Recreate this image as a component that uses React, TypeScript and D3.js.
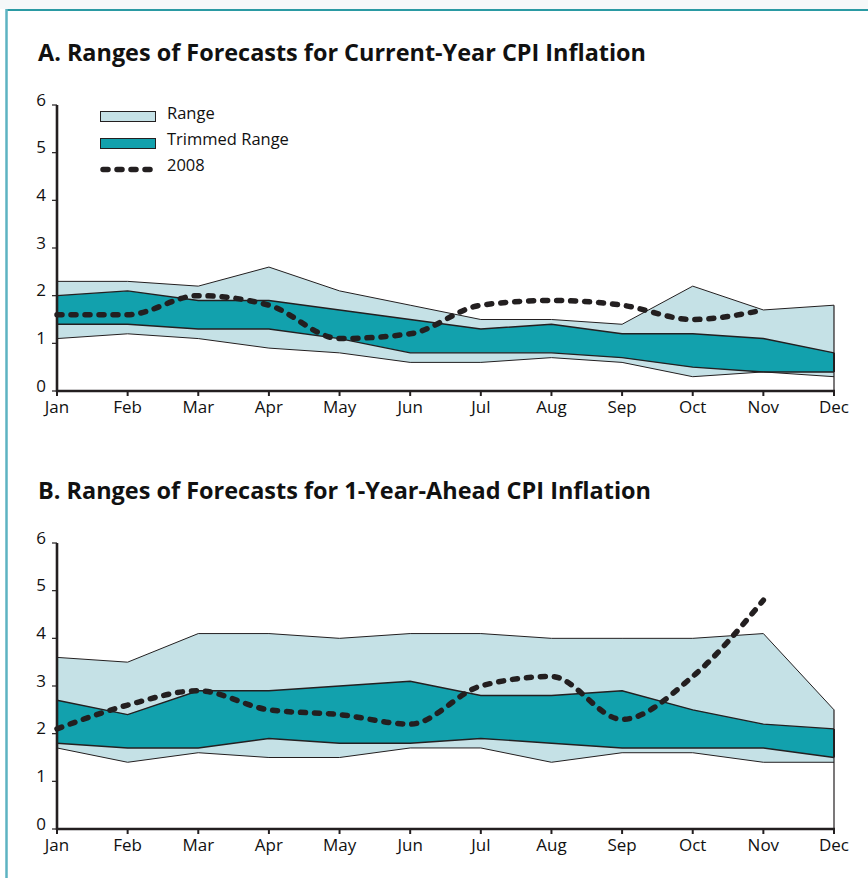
import React from 'react';
import * as d3 from 'd3';

const months = ['Jan', 'Feb', 'Mar', 'Apr', 'May', 'Jun', 'Jul', 'Aug', 'Sep', 'Oct', 'Nov', 'Dec'];
const yTicks = [0, 1, 2, 3, 4, 5, 6];

// Panel A: current-year CPI inflation
const aRangeHigh = [2.3, 2.3, 2.2, 2.6, 2.1, 1.8, 1.5, 1.5, 1.4, 2.2, 1.7, 1.8];
const aRangeLow = [1.1, 1.2, 1.1, 0.9, 0.8, 0.6, 0.6, 0.7, 0.6, 0.3, 0.4, 0.3];
const aTrimHigh = [2.0, 2.1, 1.9, 1.9, 1.7, 1.5, 1.3, 1.4, 1.2, 1.2, 1.1, 0.8];
const aTrimLow = [1.4, 1.4, 1.3, 1.3, 1.1, 0.8, 0.8, 0.8, 0.7, 0.5, 0.4, 0.4];
const a2008 = [1.6, 1.6, 2.0, 1.8, 1.1, 1.2, 1.8, 1.9, 1.8, 1.5, 1.7];

// Panel B: 1-year-ahead CPI inflation
const bRangeHigh = [3.6, 3.5, 4.1, 4.1, 4.0, 4.1, 4.1, 4.0, 4.0, 4.0, 4.1, 2.5];
const bRangeLow = [1.7, 1.4, 1.6, 1.5, 1.5, 1.7, 1.7, 1.4, 1.6, 1.6, 1.4, 1.4];
const bTrimHigh = [2.7, 2.4, 2.9, 2.9, 3.0, 3.1, 2.8, 2.8, 2.9, 2.5, 2.2, 2.1];
const bTrimLow = [1.8, 1.7, 1.7, 1.9, 1.8, 1.8, 1.9, 1.8, 1.7, 1.7, 1.7, 1.5];
const b2008 = [2.1, 2.6, 2.9, 2.5, 2.4, 2.2, 3.0, 3.2, 2.3, 3.2, 4.8];

const legendItems = ['Range', 'Trimmed Range', '2008'];

const LIGHT = '#c5e1e6';
const TEAL = '#12a1ad';
const INK = '#231f20';
const FONT = '"Open Sans", "Noto Sans", sans-serif';

interface PanelSpec {
  title: string;
  top: number; // y of value 6
  bottom: number; // y of value 0
  rangeHigh: number[];
  rangeLow: number[];
  trimHigh: number[];
  trimLow: number[];
  line: number[];
  legend: boolean;
}

const App: React.FC = () => {
  const svgRef = React.useRef<SVGSVGElement>(null);

  React.useEffect(() => {
    if (!svgRef.current) return;
    const svg = d3.select(svgRef.current);
    svg.selectAll('*').remove();

    // frame
    svg.append('rect').attr('x', 0).attr('y', 0).attr('width', 868).attr('height', 9).attr('fill', '#f5f8f9');
    svg.append('line').attr('x1', 6).attr('x2', 868).attr('y1', 10).attr('y2', 10)
      .attr('stroke', '#2a9aa3').attr('stroke-width', 2);
    svg.append('line').attr('x1', 6.5).attr('x2', 6.5).attr('y1', 9).attr('y2', 878)
      .attr('stroke', '#5db3c2').attr('stroke-width', 2.5);

    const x = d3.scalePoint<string>().domain(months).range([57, 834]);

    const panels: PanelSpec[] = [
      {
        title: 'A. Ranges of Forecasts for Current-Year CPI Inflation',
        top: 105, bottom: 391,
        rangeHigh: aRangeHigh, rangeLow: aRangeLow, trimHigh: aTrimHigh, trimLow: aTrimLow,
        line: a2008, legend: true
      },
      {
        title: 'B. Ranges of Forecasts for 1-Year-Ahead CPI Inflation',
        top: 543, bottom: 829,
        rangeHigh: bRangeHigh, rangeLow: bRangeLow, trimHigh: bTrimHigh, trimLow: bTrimLow,
        line: b2008, legend: false
      }
    ];

    panels.forEach(p => {
      const y = d3.scaleLinear().domain([0, 6]).range([p.bottom, p.top]);
      const g = svg.append('g');

      // title
      g.append('text')
        .attr('x', 38)
        .attr('y', p.top - 44)
        .attr('font-family', FONT)
        .attr('font-weight', 700)
        .attr('font-size', 24)
        .attr('fill', '#111')
        .attr('textLength', p.legend ? 608 : 613)
        .attr('lengthAdjust', 'spacingAndGlyphs')
        .text(p.title);

      const band = (hi: number[], lo: number[]) =>
        d3.area<number>()
          .x((_, i) => x(months[i]) as number)
          .y0((_, i) => y(lo[i]))
          .y1(d => y(d))(hi);

      const edge = (vals: number[]) =>
        d3.line<number>().x((_, i) => x(months[i]) as number).y(d => y(d))(vals);

      g.append('path').attr('d', band(p.rangeHigh, p.rangeLow)).attr('fill', LIGHT);
      g.append('path').attr('d', band(p.trimHigh, p.trimLow)).attr('fill', TEAL);

      [p.rangeHigh, p.rangeLow].forEach(v => {
        g.append('path').attr('d', edge(v)).attr('fill', 'none').attr('stroke', INK).attr('stroke-width', 1);
      });
      [p.trimHigh, p.trimLow].forEach(v => {
        g.append('path').attr('d', edge(v)).attr('fill', 'none').attr('stroke', INK).attr('stroke-width', 1.4);
      });

      // right edge at Dec down to axis
      const last = months.length - 1;
      const xd = x(months[last]) as number;
      g.append('line').attr('x1', xd).attr('x2', xd)
        .attr('y1', y(p.rangeHigh[last])).attr('y2', p.bottom)
        .attr('stroke', INK).attr('stroke-width', 1.2);
      g.append('line').attr('x1', xd).attr('x2', xd)
        .attr('y1', y(p.trimHigh[last])).attr('y2', y(p.trimLow[last]))
        .attr('stroke', INK).attr('stroke-width', 2);

      // y axis
      g.append('line').attr('x1', 57).attr('x2', 57).attr('y1', p.top).attr('y2', p.bottom + 1)
        .attr('stroke', INK).attr('stroke-width', 2.6);
      yTicks.forEach(t => {
        g.append('line').attr('x1', 52).attr('x2', 57).attr('y1', y(t)).attr('y2', y(t))
          .attr('stroke', INK).attr('stroke-width', 1.2);
        g.append('text')
          .attr('x', 46)
          .attr('y', y(t) - 4)
          .attr('text-anchor', 'end')
          .attr('dominant-baseline', 'middle')
          .attr('font-family', FONT)
          .attr('font-size', 17)
          .attr('fill', '#111')
          .text(t);
      });

      // x axis
      g.append('line').attr('x1', 56).attr('x2', 835).attr('y1', p.bottom).attr('y2', p.bottom)
        .attr('stroke', INK).attr('stroke-width', 2.6);
      months.forEach(m => {
        const xm = x(m) as number;
        g.append('line').attr('x1', xm).attr('x2', xm).attr('y1', p.bottom).attr('y2', p.bottom + 5)
          .attr('stroke', INK).attr('stroke-width', 2);
        g.append('text')
          .attr('x', xm)
          .attr('y', p.bottom + 22)
          .attr('text-anchor', 'middle')
          .attr('font-family', FONT)
          .attr('font-size', 17)
          .attr('fill', '#111')
          .text(m);
      });

      // 2008 line
      const dash = d3.line<number>()
        .x((_, i) => x(months[i]) as number)
        .y(d => y(d))
        .curve(d3.curveMonotoneX);
      g.append('path')
        .attr('d', dash(p.line))
        .attr('fill', 'none')
        .attr('stroke', INK)
        .attr('stroke-width', 5.5)
        .attr('stroke-linecap', 'round')
        .attr('stroke-dasharray', '5 9');

      if (p.legend) {
        const lg = g.append('g');
        const rowY = [117, 143, 169];
        lg.append('rect').attr('x', 100.5).attr('y', 111.5).attr('width', 55).attr('height', 10)
          .attr('fill', LIGHT).attr('stroke', INK).attr('stroke-width', 1);
        lg.append('rect').attr('x', 100.5).attr('y', 138.5).attr('width', 55).attr('height', 10)
          .attr('fill', TEAL).attr('stroke', INK).attr('stroke-width', 1);
        lg.append('line').attr('x1', 103).attr('x2', 157).attr('y1', 169.5).attr('y2', 169.5)
          .attr('stroke', INK).attr('stroke-width', 5.5).attr('stroke-linecap', 'round')
          .attr('stroke-dasharray', '5 9');
        legendItems.forEach((name, i) => {
          lg.append('text')
            .attr('x', 167)
            .attr('y', rowY[i] - 2)
            .attr('dominant-baseline', 'middle')
            .attr('font-family', FONT)
            .attr('font-size', 16.5)
            .attr('fill', '#111')
            .text(name);
        });
      }
    });
  }, []);

  return (
    <svg
      ref={svgRef}
      width={868}
      height={878}
      style={{ position: 'absolute', left: 0, top: 0, background: '#fff' }}
    />
  );
};

export default App;
